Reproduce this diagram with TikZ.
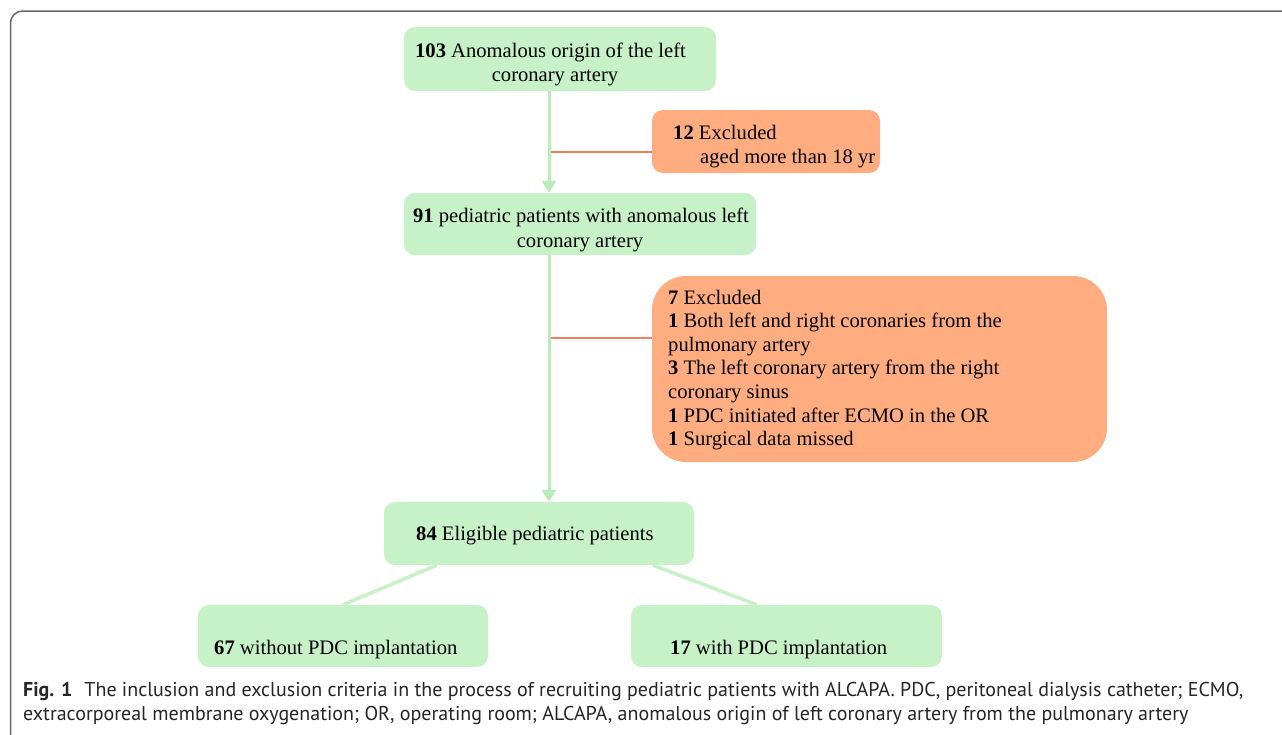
\documentclass[tikz,border=0pt]{standalone}
\usepackage{fontspec}
\setmainfont{Liberation Serif}
\newfontfamily\capfont{PT Sans}
\usetikzlibrary{arrows.meta,calc}
\definecolor{boxgreen}{RGB}{199,241,199}
\definecolor{arrowgreen}{RGB}{184,236,184}
\definecolor{boxorange}{RGB}{255,173,128}
\definecolor{lineorange}{RGB}{240,128,98}
\definecolor{framegray}{RGB}{105,105,105}
\tikzset{
  gbox/.style={fill=boxgreen, draw=none, rounded corners=11pt, inner sep=0pt},
  obox/.style={fill=boxorange, draw=none, inner sep=0pt},
  txt/.style={anchor=base west, inner sep=0pt, font=\fontsize{20.6}{23.6}\selectfont},
  ctxt/.style={anchor=base, inner sep=0pt, font=\fontsize{20.6}{23.6}\selectfont},
  flow/.style={draw=arrowgreen, line width=3pt, -{Triangle[width=14pt,length=12pt]}},
  split/.style={draw=boxgreen, line width=3.5pt},
  excl/.style={draw=lineorange, line width=1.5pt},
  captext/.style={anchor=base west, inner sep=0pt, font=\capfont\fontsize{20}{23}\selectfont, text=black!85}
}
\begin{document}
\begin{tikzpicture}[x=1pt,y=-1pt]
\useasboundingbox (0,0) rectangle (1282,734);
\fill[white] (0,0) rectangle (1282,734);
% frame
\draw[framegray, line width=1.5pt, rounded corners=12pt] (10.5,745) -- (10.5,11) -- (1295,11);

% boxes
\node[gbox, minimum width=312pt, minimum height=64pt] (b1) at (560,59) {};
\node[obox, rounded corners=11pt, minimum width=228pt, minimum height=63pt] (e1) at (766,141.5) {};
\node[gbox, minimum width=352pt, minimum height=62pt] (b2) at (580,224) {};
\node[obox, rounded corners=34pt, minimum width=455pt, minimum height=186pt] (e2) at (879.5,369) {};
\node[gbox, minimum width=310pt, minimum height=63pt] (b3) at (539,533.5) {};
\node[gbox, minimum width=290pt, minimum height=62pt] (b4) at (343,636) {};
\node[gbox, minimum width=311pt, minimum height=62pt] (b5) at (786.5,636) {};

% texts
\node[ctxt] (t1a) at (550.5,57) {\textbf{103} Anomalous origin of the left};
\node[ctxt] (t1b) at (555,81.5) {coronary artery};
\node[txt] (te1a) at (673,139) {\textbf{12} Excluded};
\node[txt] (te1b) at (700,163.5) {aged more than 18 yr};
\node[ctxt] (t2a) at (581,222.5) {\textbf{91} pediatric patients with anomalous left};
\node[ctxt] (t2b) at (580,247.5) {coronary artery};
\node[txt] (te2a) at (668,304) {\textbf{7} Excluded};
\node[txt] (te2b) at (668,327.6) {\textbf{1} Both left and right coronaries from the};
\node[txt] (te2c) at (668,351.2) {pulmonary artery};
\node[txt] (te2d) at (668,374.8) {\textbf{3} The left coronary artery from the right};
\node[txt] (te2e) at (668,398.4) {coronary sinus};
\node[txt] (te2f) at (668,422) {\textbf{1} PDC initiated after ECMO in the OR};
\node[txt] (te2g) at (668,445.6) {\textbf{1} Surgical data missed};
\node[txt] (t3) at (416,540.5) {\textbf{84} Eligible pediatric patients};
\node[txt] (t4) at (214,654) {\textbf{67} without PDC implantation};
\node[txt] (t5) at (670,654) {\textbf{17} with PDC implantation};

% connectors
\coordinate (trunk) at (549,0);
\coordinate (j1) at (549,152);
\coordinate (j2) at (549,338);
\draw[excl] (j1) -- (j1 -| e1.west);
\draw[excl] (j2) -- (j2 -| e2.west);
\draw[flow] (b1.south -| trunk) -- (b2.north -| trunk);
\draw[flow] (b2.south -| trunk) -- (b3.north -| trunk);
\draw[split] ([xshift=53pt]b3.south west) -- ([xshift=145pt]b4.north west);
\draw[split] ([xshift=-41pt]b3.south east) -- ([xshift=126pt]b5.north west);

% caption
\node[captext] (c1) at (23,696) {\textbf{Fig. 1}\hspace{0.6em}The inclusion and exclusion criteria in the process of recruiting pediatric patients with ALCAPA. PDC, peritoneal dialysis catheter; ECMO,};
\node[captext] (c2) at (23,720) {extracorporeal membrane oxygenation; OR, operating room; ALCAPA, anomalous origin of left coronary artery from the pulmonary artery};
\end{tikzpicture}
\end{document}
